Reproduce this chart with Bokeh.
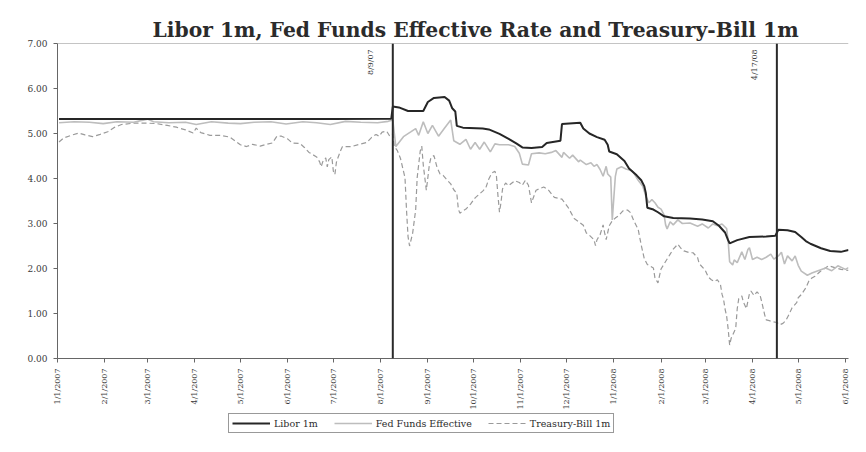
import numpy as np
import pandas as pd
from bokeh.plotting import figure
from bokeh.layouts import column
from bokeh.models import Range1d, FixedTicker, Span, Label, Legend, LegendItem, PrintfTickFormatter
from bokeh.embed import file_html
from bokeh.resources import INLINE

# ---------------- data ----------------
title_text = "Libor 1m, Fed Funds Effective Rate and Treasury-Bill 1m"

x_tick_labels = ["1/1/2007", "2/1/2007", "3/1/2007", "4/1/2007", "5/1/2007", "6/1/2007",
                 "7/1/2007", "8/1/2007", "9/1/2007", "10/1/2007", "11/1/2007", "12/1/2007",
                 "1/1/2008", "2/1/2008", "3/1/2008", "4/1/2008", "5/1/2008", "6/1/2008"]
y_ticks = [0, 1, 2, 3, 4, 5, 6, 7]

event_dates = ["2007-08-09", "2008-04-17"]
event_labels = ["8/9/07", "4/17/08"]

series_names = ["Libor 1m", "Fed Funds Effective", "Treasury-Bill 1m"]

libor_dates = [
    "2007-01-02", "2007-02-15", "2007-04-02", "2007-05-15", "2007-06-29", "2007-08-08", "2007-08-09", "2007-08-13", "2007-08-19", "2007-08-29",
    "2007-09-01", "2007-09-05", "2007-09-12", "2007-09-15", "2007-09-17", "2007-09-19", "2007-09-20", "2007-09-24", "2007-10-07", "2007-10-11",
    "2007-10-18", "2007-10-24", "2007-10-29", "2007-11-02", "2007-11-08", "2007-11-15", "2007-11-18", "2007-11-27", "2007-11-28", "2007-12-10",
    "2007-12-12", "2007-12-16", "2007-12-21", "2007-12-26", "2007-12-28", "2007-12-29", "2008-01-03", "2008-01-08", "2008-01-11", "2008-01-16",
    "2008-01-19", "2008-01-21", "2008-01-22", "2008-01-23", "2008-01-27", "2008-01-30", "2008-02-03", "2008-02-09", "2008-02-20", "2008-02-28",
    "2008-03-06", "2008-03-10", "2008-03-14", "2008-03-16", "2008-03-17", "2008-03-22", "2008-03-30", "2008-04-10", "2008-04-16", "2008-04-18",
    "2008-04-24", "2008-04-29", "2008-05-03", "2008-05-06", "2008-05-09", "2008-05-16", "2008-05-22", "2008-05-29", "2008-06-03"]
libor_values = [
    5.32, 5.32, 5.32, 5.32, 5.32, 5.33, 5.60, 5.58, 5.50, 5.50,
    5.70, 5.79, 5.81, 5.73, 5.56, 5.49, 5.17, 5.13, 5.11, 5.09,
    4.99, 4.88, 4.78, 4.69, 4.68, 4.70, 4.79, 4.84, 5.21, 5.24,
    5.11, 5.00, 4.92, 4.86, 4.75, 4.60, 4.54, 4.39, 4.22, 4.07,
    3.96, 3.83, 3.68, 3.35, 3.31, 3.25, 3.16, 3.12, 3.11, 3.09,
    3.05, 2.95, 2.80, 2.63, 2.56, 2.63, 2.70, 2.71, 2.73, 2.86,
    2.85, 2.81, 2.70, 2.61, 2.55, 2.45, 2.39, 2.37, 2.41]

ff_dates = [
    "2007-01-02", "2007-01-12", "2007-01-22", "2007-01-31", "2007-02-09", "2007-02-20", "2007-03-01", "2007-03-05", "2007-03-15", "2007-03-26",
    "2007-04-02", "2007-04-12", "2007-04-23", "2007-05-01", "2007-05-10", "2007-05-21", "2007-05-31", "2007-06-11", "2007-06-20", "2007-06-29",
    "2007-07-09", "2007-07-19", "2007-07-30", "2007-08-06", "2007-08-09", "2007-08-11", "2007-08-16", "2007-08-21", "2007-08-24", "2007-08-26",
    "2007-08-29", "2007-09-01", "2007-09-04", "2007-09-08", "2007-09-12", "2007-09-16", "2007-09-18", "2007-09-22", "2007-09-26", "2007-09-29",
    "2007-10-02", "2007-10-05", "2007-10-08", "2007-10-12", "2007-10-15", "2007-10-18", "2007-10-24", "2007-10-28", "2007-10-31", "2007-11-02",
    "2007-11-06", "2007-11-08", "2007-11-13", "2007-11-17", "2007-11-21", "2007-11-24", "2007-11-28", "2007-11-29", "2007-12-03", "2007-12-05",
    "2007-12-09", "2007-12-10", "2007-12-14", "2007-12-17", "2007-12-19", "2007-12-21", "2007-12-23", "2007-12-25", "2007-12-27", "2007-12-28",
    "2007-12-30", "2007-12-31", "2008-01-02", "2008-01-03", "2008-01-06", "2008-01-09", "2008-01-13", "2008-01-15", "2008-01-17", "2008-01-20",
    "2008-01-22", "2008-01-24", "2008-01-26", "2008-01-28", "2008-01-30", "2008-02-01", "2008-02-03", "2008-02-04", "2008-02-05", "2008-02-07",
    "2008-02-09", "2008-02-12", "2008-02-15", "2008-02-20", "2008-02-25", "2008-02-28", "2008-03-03", "2008-03-06", "2008-03-09", "2008-03-12",
    "2008-03-15", "2008-03-16", "2008-03-17", "2008-03-19", "2008-03-20", "2008-03-22", "2008-03-25", "2008-03-27", "2008-03-29", "2008-03-30",
    "2008-04-01", "2008-04-04", "2008-04-07", "2008-04-10", "2008-04-13", "2008-04-15", "2008-04-18", "2008-04-20", "2008-04-22", "2008-04-24",
    "2008-04-27", "2008-04-29", "2008-05-01", "2008-05-03", "2008-05-07", "2008-05-10", "2008-05-14", "2008-05-19", "2008-05-23", "2008-05-27",
    "2008-06-01", "2008-06-03"]
ff_values = [
    5.24, 5.26, 5.25, 5.22, 5.26, 5.25, 5.32, 5.26, 5.24, 5.25,
    5.20, 5.26, 5.23, 5.22, 5.25, 5.26, 5.21, 5.26, 5.24, 5.20,
    5.27, 5.25, 5.24, 5.27, 5.30, 4.71, 4.93, 5.04, 5.11, 4.96,
    5.26, 5.00, 5.18, 4.94, 5.12, 5.30, 4.84, 4.76, 4.87, 4.65,
    4.80, 4.65, 4.81, 4.59, 4.77, 4.75, 4.75, 4.71, 4.56, 4.32,
    4.30, 4.55, 4.57, 4.55, 4.58, 4.62, 4.47, 4.58, 4.45, 4.52,
    4.37, 4.41, 4.31, 4.35, 4.27, 4.31, 4.20, 4.05, 4.27, 4.10,
    4.03, 3.08, 4.04, 4.21, 4.26, 4.21, 4.17, 4.07, 3.96, 3.83,
    3.61, 3.46, 3.53, 3.46, 3.36, 3.32, 3.19, 2.97, 2.88, 3.04,
    2.97, 3.08, 3.00, 3.01, 2.94, 2.99, 2.90, 2.99, 2.95, 2.99,
    2.89, 2.63, 2.15, 2.08, 2.19, 2.13, 2.37, 2.20, 2.42, 2.46,
    2.20, 2.25, 2.20, 2.25, 2.32, 2.21, 2.28, 2.36, 2.10, 2.28,
    2.17, 2.28, 2.07, 1.94, 1.85, 1.90, 1.95, 2.01, 1.95, 2.06,
    1.98, 2.02]

tb_dates = [
    "2007-01-02", "2007-01-05", "2007-01-10", "2007-01-15", "2007-01-19", "2007-01-24", "2007-01-29", "2007-02-03", "2007-02-07", "2007-02-12",
    "2007-02-20", "2007-03-01", "2007-03-07", "2007-03-14", "2007-03-20", "2007-03-26", "2007-03-31", "2007-04-02", "2007-04-05", "2007-04-11",
    "2007-04-18", "2007-04-24", "2007-05-01", "2007-05-05", "2007-05-09", "2007-05-14", "2007-05-18", "2007-05-22", "2007-05-25", "2007-05-28",
    "2007-06-01", "2007-06-04", "2007-06-09", "2007-06-12", "2007-06-15", "2007-06-20", "2007-06-22", "2007-06-23", "2007-06-24", "2007-06-26",
    "2007-06-27", "2007-06-28", "2007-06-30", "2007-07-01", "2007-07-02", "2007-07-03", "2007-07-04", "2007-07-06", "2007-07-07", "2007-07-10",
    "2007-07-13", "2007-07-18", "2007-07-23", "2007-07-26", "2007-07-29", "2007-07-31", "2007-08-02", "2007-08-05", "2007-08-07", "2007-08-09",
    "2007-08-10", "2007-08-12", "2007-08-14", "2007-08-17", "2007-08-18", "2007-08-19", "2007-08-20", "2007-08-22", "2007-08-24", "2007-08-25",
    "2007-08-27", "2007-08-28", "2007-08-29", "2007-08-31", "2007-09-01", "2007-09-02", "2007-09-03", "2007-09-05", "2007-09-07", "2007-09-09",
    "2007-09-11", "2007-09-13", "2007-09-16", "2007-09-18", "2007-09-20", "2007-09-21", "2007-09-22", "2007-09-24", "2007-09-26", "2007-09-29",
    "2007-10-02", "2007-10-05", "2007-10-07", "2007-10-09", "2007-10-11", "2007-10-13", "2007-10-15", "2007-10-16", "2007-10-17", "2007-10-18",
    "2007-10-19", "2007-10-20", "2007-10-22", "2007-10-24", "2007-10-28", "2007-10-31", "2007-11-02", "2007-11-04", "2007-11-06", "2007-11-08",
    "2007-11-11", "2007-11-16", "2007-11-19", "2007-11-23", "2007-11-28", "2007-12-02", "2007-12-06", "2007-12-09", "2007-12-12", "2007-12-14",
    "2007-12-16", "2007-12-19", "2007-12-20", "2007-12-21", "2007-12-23", "2007-12-25", "2007-12-26", "2007-12-27", "2007-12-29", "2007-12-31",
    "2008-01-02", "2008-01-04", "2008-01-07", "2008-01-10", "2008-01-12", "2008-01-14", "2008-01-17", "2008-01-19", "2008-01-21", "2008-01-23",
    "2008-01-25", "2008-01-27", "2008-01-28", "2008-01-30", "2008-01-31", "2008-02-01", "2008-02-03", "2008-02-05", "2008-02-07", "2008-02-09",
    "2008-02-12", "2008-02-14", "2008-02-16", "2008-02-20", "2008-02-22", "2008-02-25", "2008-02-26", "2008-03-01", "2008-03-03", "2008-03-05",
    "2008-03-07", "2008-03-09", "2008-03-11", "2008-03-12", "2008-03-13", "2008-03-14", "2008-03-15", "2008-03-16", "2008-03-17", "2008-03-18",
    "2008-03-19", "2008-03-21", "2008-03-22", "2008-03-23", "2008-03-25", "2008-03-26", "2008-03-28", "2008-03-30", "2008-03-31", "2008-04-02",
    "2008-04-04", "2008-04-06", "2008-04-07", "2008-04-08", "2008-04-09", "2008-04-10", "2008-04-12", "2008-04-14", "2008-04-17", "2008-04-19",
    "2008-04-21", "2008-04-23", "2008-04-25", "2008-04-27", "2008-04-30", "2008-05-01", "2008-05-03", "2008-05-06", "2008-05-08", "2008-05-10",
    "2008-05-12", "2008-05-16", "2008-05-21", "2008-05-25", "2008-05-29", "2008-06-03"]
tb_values = [
    4.81, 4.90, 4.96, 5.01, 4.97, 4.93, 4.98, 5.04, 5.13, 5.20,
    5.23, 5.23, 5.22, 5.18, 5.14, 5.08, 5.01, 5.12, 5.02, 4.96,
    4.96, 4.92, 4.75, 4.71, 4.76, 4.72, 4.76, 4.79, 4.94, 4.94,
    4.88, 4.79, 4.78, 4.69, 4.58, 4.48, 4.37, 4.26, 4.37, 4.46,
    4.26, 4.42, 4.48, 4.16, 4.09, 4.36, 4.46, 4.64, 4.71, 4.71,
    4.71, 4.76, 4.80, 4.91, 4.98, 4.94, 5.03, 5.05, 4.94, 4.99,
    4.71, 4.62, 4.45, 4.02, 3.30, 2.71, 2.50, 2.78, 3.30, 4.02,
    4.61, 4.72, 4.30, 3.74, 4.02, 4.31, 4.46, 4.51, 4.25, 4.10,
    4.07, 3.99, 3.88, 3.75, 3.67, 3.32, 3.23, 3.28, 3.32, 3.43,
    3.57, 3.66, 3.72, 3.79, 3.99, 4.12, 4.16, 4.05, 3.62, 3.25,
    3.47, 3.77, 3.90, 3.84, 3.95, 3.91, 3.85, 3.96, 3.85, 3.46,
    3.74, 3.81, 3.75, 3.58, 3.54, 3.36, 3.11, 3.04, 2.96, 2.79,
    2.74, 2.64, 2.51, 2.64, 2.75, 2.97, 2.79, 2.64, 2.95, 3.06,
    3.12, 3.17, 3.28, 3.30, 3.24, 3.07, 2.87, 2.52, 2.22, 2.09,
    2.05, 2.01, 1.79, 1.68, 1.84, 1.99, 2.10, 2.21, 2.32, 2.43,
    2.54, 2.45, 2.39, 2.35, 2.35, 2.24, 2.11, 1.96, 1.81, 1.75,
    1.71, 1.75, 1.64, 1.43, 1.32, 1.10, 0.95, 0.67, 0.30, 0.45,
    0.52, 0.67, 1.11, 1.33, 1.39, 1.26, 1.11, 1.44, 1.50, 1.40,
    1.48, 1.40, 1.27, 1.12, 0.97, 0.86, 0.84, 0.82, 0.80, 0.75,
    0.78, 0.85, 0.98, 1.13, 1.24, 1.35, 1.42, 1.57, 1.72, 1.79,
    1.83, 1.95, 2.06, 2.02, 1.98, 1.96]

x_start = "2007-01-01"
x_end = "2008-06-03"

# ---------------- styles ----------------
SERIF = "DejaVu Serif"
styles = [dict(line_color="#262626", line_width=2),
          dict(line_color="#bdbdbd", line_width=1.6),
          dict(line_color="#9a9a9a", line_width=1.2, line_dash="5 3")]

# ---------------- main figure ----------------
p = figure(width=850, height=412, x_axis_type="datetime",
           output_backend="svg", toolbar_location=None,
           x_range=Range1d(start=pd.Timestamp(x_start), end=pd.Timestamp(x_end)),
           y_range=Range1d(start=0, end=7),
           min_border_left=57, min_border_right=2, min_border_top=43, min_border_bottom=47)
p.background_fill_color = "white"
p.border_fill_color = "white"
p.outline_line_color = None
p.xgrid.visible = False
p.ygrid.visible = False

p.title.text = title_text
p.title.text_font = SERIF
p.title.text_font_style = "bold"
p.title.text_font_size = "20.3px"
p.title.text_color = "#2b2b2b"
p.title.align = "left"
p.title.offset = 95
p.title.standoff = 4

tick_dt = pd.to_datetime(x_tick_labels, format="%m/%d/%Y")
tick_ms = [int(t.value // 10**6) for t in tick_dt]
p.xaxis.ticker = FixedTicker(ticks=tick_ms)
p.xaxis.major_label_overrides = {ms: lab for ms, lab in zip(tick_ms, x_tick_labels)}
p.xaxis.major_label_orientation = np.pi / 2
p.xaxis.major_label_text_font = SERIF
p.xaxis.major_label_text_font_size = "8px"
p.xaxis.major_label_text_color = "#3a3a3a"
p.xaxis.major_label_standoff = 6
p.xaxis.major_tick_out = 4
p.xaxis.major_tick_in = 0
p.xaxis.minor_tick_line_color = None
p.xaxis.axis_line_color = "#666666"
p.xaxis.major_tick_line_color = "#666666"

p.yaxis.ticker = FixedTicker(ticks=y_ticks)
p.yaxis.formatter = PrintfTickFormatter(format="%.2f")
p.yaxis.major_label_text_font = SERIF
p.yaxis.major_label_text_font_size = "9px"
p.yaxis.major_label_text_color = "#3a3a3a"
p.yaxis.major_label_standoff = 6
p.yaxis.major_tick_out = 4
p.yaxis.major_tick_in = 0
p.yaxis.minor_tick_line_color = None
p.yaxis.axis_line_color = "#666666"
p.yaxis.major_tick_line_color = "#666666"

p.add_layout(Span(location=y_ticks[-1], dimension="width", line_color="#8a8a8a", line_width=1))

p.line(pd.to_datetime(tb_dates), tb_values, **styles[2])
p.line(pd.to_datetime(ff_dates), ff_values, **styles[1])
p.line(pd.to_datetime(libor_dates), libor_values, **styles[0])

for d, lab in zip(event_dates, event_labels):
    ts = pd.Timestamp(d)
    p.add_layout(Span(location=ts, dimension="height", line_color="#2a2a2a", line_width=2))
    p.add_layout(Label(x=ts, y=6.87, text=lab, angle=np.pi / 2, text_align="right",
                       text_baseline="bottom", x_offset=-18, text_font=SERIF,
                       text_font_size="8px", text_color="#333333"))

# ---------------- legend strip (frame aligned with the main plot's frame) ----------------
q = figure(width=850, height=24, output_backend="svg", toolbar_location=None,
           x_range=Range1d(0, 1), y_range=Range1d(0, 1),
           x_axis_location=None, y_axis_location=None,
           min_border_left=0, min_border_right=0, min_border_top=0, min_border_bottom=0)
q.outline_line_color = None
q.xgrid.visible = False
q.ygrid.visible = False
q.background_fill_color = "white"
q.border_fill_color = "white"
# legend-only renderers: one point lying outside the strip's ranges, so nothing is drawn
legend_renderers = [q.line([-5, -5], [-5, -5], **s) for s in styles]

legend = Legend(items=[LegendItem(label=n, renderers=[r]) for n, r in zip(series_names, legend_renderers)],
                orientation="horizontal", location=(171, 3))
legend.border_line_color = "#333333"
legend.border_line_width = 1
legend.background_fill_color = "white"
legend.background_fill_alpha = 1
legend.padding = 3
legend.margin = 0
legend.spacing = 16
legend.glyph_width = 38
legend.glyph_height = 12
legend.label_standoff = 4
legend.label_height = 12
legend.label_text_font = SERIF
legend.label_text_font_size = "9.5px"
legend.label_text_color = "#2b2b2b"
q.add_layout(legend)

layout = column(p, q, spacing=0)
open("out.html", "w").write(file_html(layout, INLINE))
